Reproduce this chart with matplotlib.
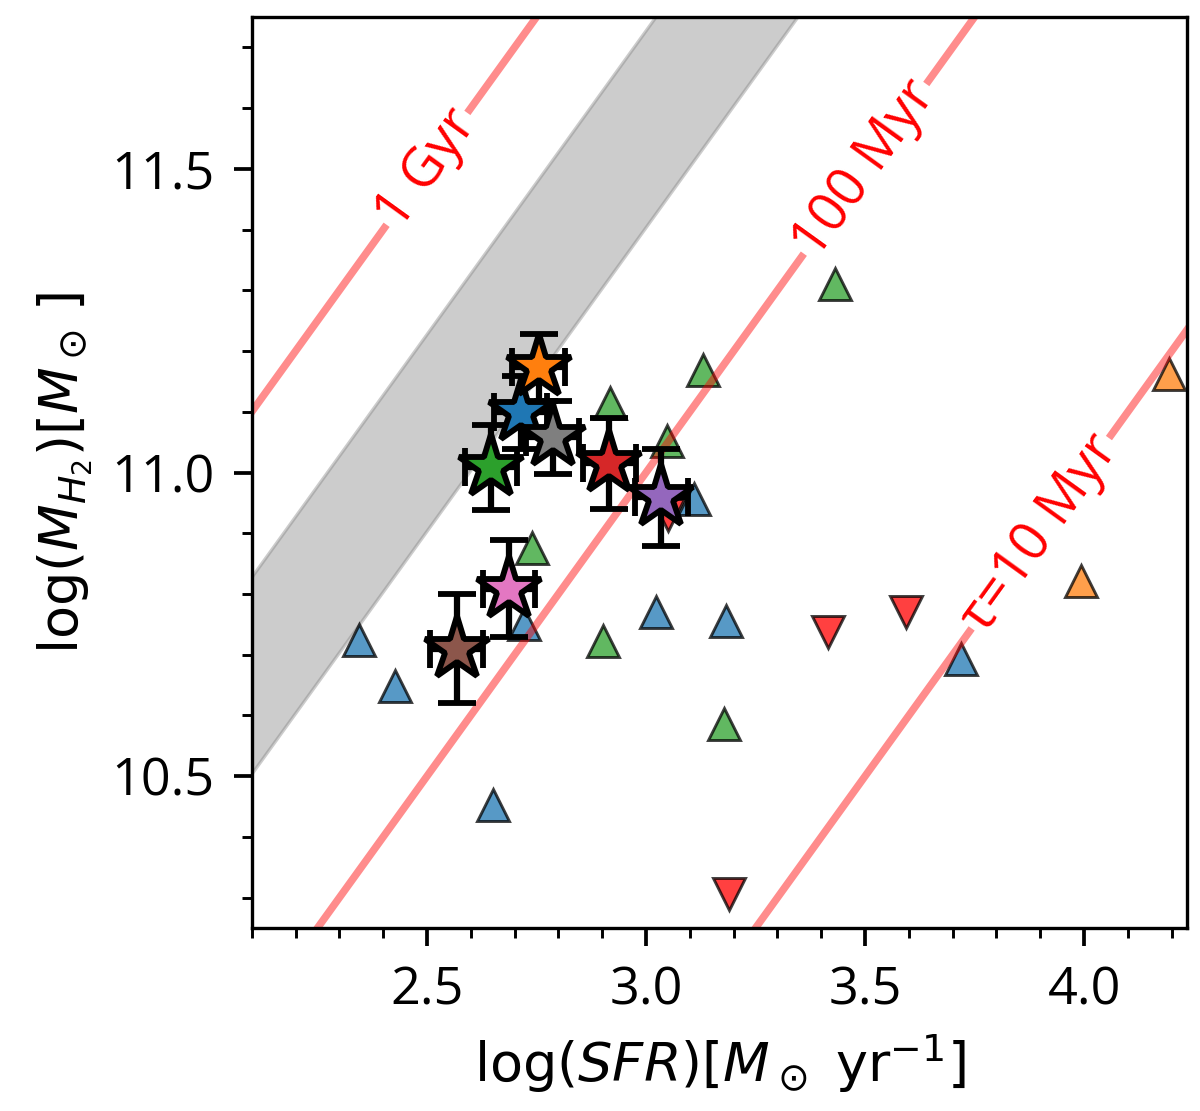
import numpy as np
import matplotlib
matplotlib.use("Agg")
import matplotlib.pyplot as plt
from matplotlib.ticker import MultipleLocator

plt.rcParams['font.family'] = ['Open Sans', 'DejaVu Sans']

# ---- data ----
# stars (detected sources), colours follow C0..C7
star_x = [2.714, 2.755, 2.646, 2.916, 3.035, 2.568, 2.687, 2.787]
star_y = [11.099, 11.173, 11.009, 11.015, 10.959, 10.710, 10.809, 11.058]
star_xerr = [0.06, 0.06, 0.06, 0.06, 0.06, 0.06, 0.06, 0.06]
star_yerr = [0.06, 0.055, 0.07, 0.075, 0.08, 0.09, 0.08, 0.06]
star_colors = ['C0', 'C1', 'C2', 'C3', 'C4', 'C5', 'C6', 'C7']

# comparison samples (triangles)
blue_x = [2.344, 2.426, 2.651, 2.722, 3.022, 3.110, 3.182, 3.719]
blue_y = [10.724, 10.649, 10.452, 10.751, 10.771, 10.957, 10.755, 10.693]
green_x = [2.739, 2.901, 2.917, 3.047, 3.131, 3.177, 3.432]
green_y = [10.876, 10.723, 11.114, 11.052, 11.168, 10.586, 11.310]
orange_x = [3.993, 4.193]
orange_y = [10.822, 11.163]
red_x = [3.051, 3.190, 3.415, 3.593]
red_y = [10.930, 10.306, 10.737, 10.770]

# depletion-time lines (log tau in yr) and their labels
tau_log = [9.0, 8.0, 7.0]
tau_labels = ['1 Gyr', '100 Myr', 'τ=10 Myr']
tau_label_x = [2.5, 3.5, 3.9]

# grey band (log tau range)
band_low, band_high = 8.403, 8.727

xlim = (2.1, 4.235)
ylim = (10.25, 11.75)

# ---- figure ----
fig = plt.figure(figsize=(4, 1111 / 300), dpi=300)
ax = fig.add_axes([0.2098, 0.1647, 0.9892 - 0.2098, 0.9847 - 0.1647])

xx = np.linspace(1.8, 4.6, 200)
ax.fill_between(xx, xx + band_low, xx + band_high, color='gray', alpha=0.4,
                lw=0.8, zorder=0.5)

tri_kw = dict(ls='none', ms=7.7, mec='black', mew=0.7, alpha=0.75, zorder=1)
ax.plot(blue_x, blue_y, marker='^', color='C0', **tri_kw)
ax.plot(green_x, green_y, marker='^', color='C2', **tri_kw)
ax.plot(orange_x, orange_y, marker='^', color='C1', **tri_kw)
ax.plot(red_x, red_y, marker='v', color='red', **tri_kw)

for lt, lab, lx in zip(tau_log, tau_labels, tau_label_x):
    ax.plot(xx, xx + lt, color='red', alpha=0.45, lw=1.8, zorder=2)
    ax.text(lx, lx + lt, lab, color='red', fontsize=13, rotation=45,
            transform_rotates_text=True, rotation_mode='anchor',
            ha='center', va='center', zorder=3,
            bbox=dict(facecolor='white', edgecolor='none', pad=0.5))

for x, y, xe, ye, c in zip(star_x, star_y, star_xerr, star_yerr, star_colors):
    ax.errorbar(x, y, xerr=xe, yerr=ye, fmt='*', ms=16, mfc=c, mec='black',
                mew=1.4, ecolor='black', elinewidth=1.5, capsize=4.5,
                capthick=1.5, zorder=4)

ax.set_xlim(*xlim)
ax.set_ylim(*ylim)
ax.xaxis.set_major_locator(MultipleLocator(0.5))
ax.xaxis.set_minor_locator(MultipleLocator(0.1))
ax.yaxis.set_major_locator(MultipleLocator(0.5))
ax.yaxis.set_minor_locator(MultipleLocator(0.1))
ax.tick_params(which='major', length=4.4, width=0.9, labelsize=12.5, pad=4.5)
ax.tick_params(which='minor', length=2.5, width=0.7)

ax.set_xlabel(r'$\log(SFR)[M_\odot\ {\rm yr}^{-1}]$', fontsize=13)
ax.set_ylabel(r'$\log(M_{H_2})[M_\odot\,]$', fontsize=13)

fig.savefig('out.png', dpi=300)
